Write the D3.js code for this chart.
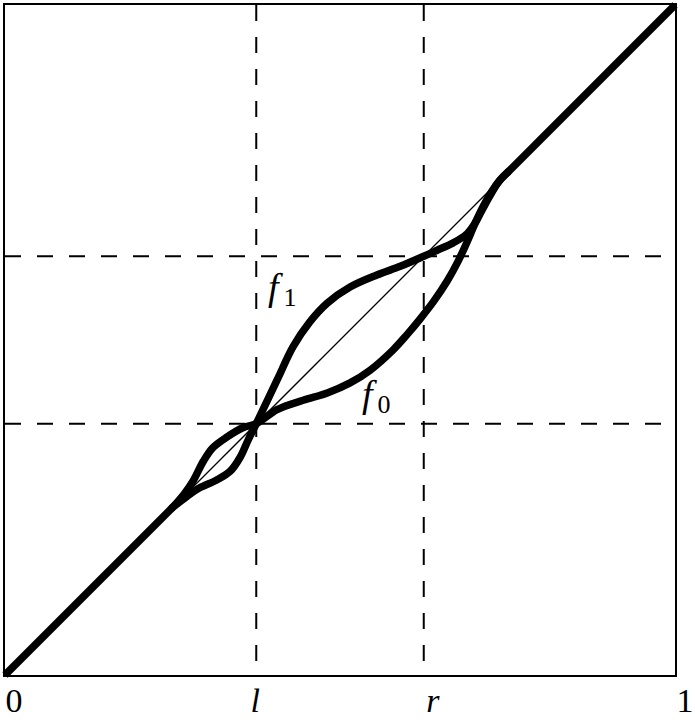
<!DOCTYPE html>
<html>
<head>
<meta charset="utf-8">
<script src="https://cdn.jsdelivr.net/npm/d3@7"></script>
<style>
  html, body { margin: 0; padding: 0; background: #fff; }
  svg { display: block; }
</style>
</head>
<body>
<svg id="chart" width="695" height="720"></svg>
<script>
// ---- data (unit square) ----
const lVal = 0.375;
const rVal = 0.625;
const tickValues = [0, lVal, rVal, 1];
const tickLabels = ["0", "l", "r", "1"];
const tickItalic = [false, true, true, false];

// identity pieces where f0 = f1 = id
const idLowX = [0, 0.25];
const idHighX = [0.75, 1];

const f0X = [0.25, 0.268, 0.281, 0.296, 0.310, 0.331, 0.355, 0.375, 0.406, 0.445, 0.481, 0.515, 0.545, 0.579, 0.600, 0.620, 0.640, 0.660, 0.676, 0.690, 0.702, 0.714, 0.726, 0.739, 0.75];
const f0Y = [0.25, 0.271, 0.290, 0.319, 0.339, 0.355, 0.369, 0.375, 0.396, 0.410, 0.421, 0.436, 0.455, 0.485, 0.508, 0.532, 0.558, 0.588, 0.617, 0.647, 0.675, 0.700, 0.721, 0.739, 0.75];

const f1X = [0.25, 0.272, 0.290, 0.316, 0.336, 0.351, 0.363, 0.375, 0.406, 0.430, 0.455, 0.481, 0.515, 0.555, 0.590, 0.625, 0.645, 0.669, 0.688, 0.700, 0.711, 0.722, 0.736, 0.75];
const f1Y = [0.25, 0.267, 0.279, 0.291, 0.304, 0.325, 0.351, 0.375, 0.440, 0.490, 0.527, 0.555, 0.579, 0.597, 0.610, 0.625, 0.634, 0.645, 0.657, 0.672, 0.692, 0.712, 0.735, 0.75];

const identityX = [0, 1];

// ---- layout ----
const svg = d3.select("#chart");
const x = d3.scaleLinear().domain([0, 1]).range([5, 675]);
const y = d3.scaleLinear().domain([0, 1]).range([675, 5]);
const serif = "'Liberation Serif', 'Times New Roman', serif";

// frame
svg.append("rect")
  .attr("x", x(0) - 1).attr("y", y(1) - 1)
  .attr("width", x(1) - x(0) + 2).attr("height", y(0) - y(1) + 2)
  .attr("fill", "none").attr("stroke", "#000").attr("stroke-width", 2);

// dashed guides
[lVal, rVal].forEach(v => {
  svg.append("line")
    .attr("x1", x(v)).attr("x2", x(v)).attr("y1", y(1)).attr("y2", y(0))
    .attr("stroke", "#000").attr("stroke-width", 2).attr("stroke-dasharray", "16,16");
  svg.append("line")
    .attr("x1", x(0)).attr("x2", x(1)).attr("y1", y(v)).attr("y2", y(v))
    .attr("stroke", "#000").attr("stroke-width", 2).attr("stroke-dasharray", "16,16");
});

// thin diagonal
svg.append("line")
  .attr("x1", x(identityX[0])).attr("y1", y(identityX[0]))
  .attr("x2", x(identityX[1])).attr("y2", y(identityX[1]))
  .attr("stroke", "#000").attr("stroke-width", 1.3);

// thick identity pieces
[idLowX, idHighX].forEach(seg => {
  svg.append("line")
    .attr("x1", x(seg[0])).attr("y1", y(seg[0]))
    .attr("x2", x(seg[1])).attr("y2", y(seg[1]))
    .attr("stroke", "#000").attr("stroke-width", 7.5).attr("stroke-linecap", "butt");
});

const line = d3.line()
  .x(d => x(d[0])).y(d => y(d[1]))
  .curve(d3.curveCatmullRom.alpha(0.5));

const f0 = f0X.map((v, i) => [v, f0Y[i]]);
const f1 = f1X.map((v, i) => [v, f1Y[i]]);

[f0, f1].forEach(data => {
  svg.append("path")
    .attr("d", line(data))
    .attr("fill", "none").attr("stroke", "#000")
    .attr("stroke-width", 7.5).attr("stroke-linejoin", "round").attr("stroke-linecap", "round");
});

// tick labels
const tickDx = [9, -1, 9, 10];
tickValues.forEach((v, i) => {
  svg.append("text")
    .attr("x", x(v) + tickDx[i]).attr("y", 712)
    .attr("text-anchor", "middle")
    .attr("font-family", serif)
    .attr("font-size", 34)
    .attr("font-style", tickItalic[i] ? "italic" : "normal")
    .text(tickLabels[i]);
});

// curve labels
function curveLabel(px, py, sub) {
  const t = svg.append("text")
    .attr("x", px).attr("y", py)
    .attr("font-family", serif)
    .attr("font-size", 38);
  t.append("tspan").attr("font-style", "italic").text("f");
  t.append("tspan").attr("font-size", 26).attr("dx", 5).attr("dy", 6).text(sub);
}
curveLabel(268, 300, "1");
curveLabel(362, 407, "0");
</script>
</body>
</html>
